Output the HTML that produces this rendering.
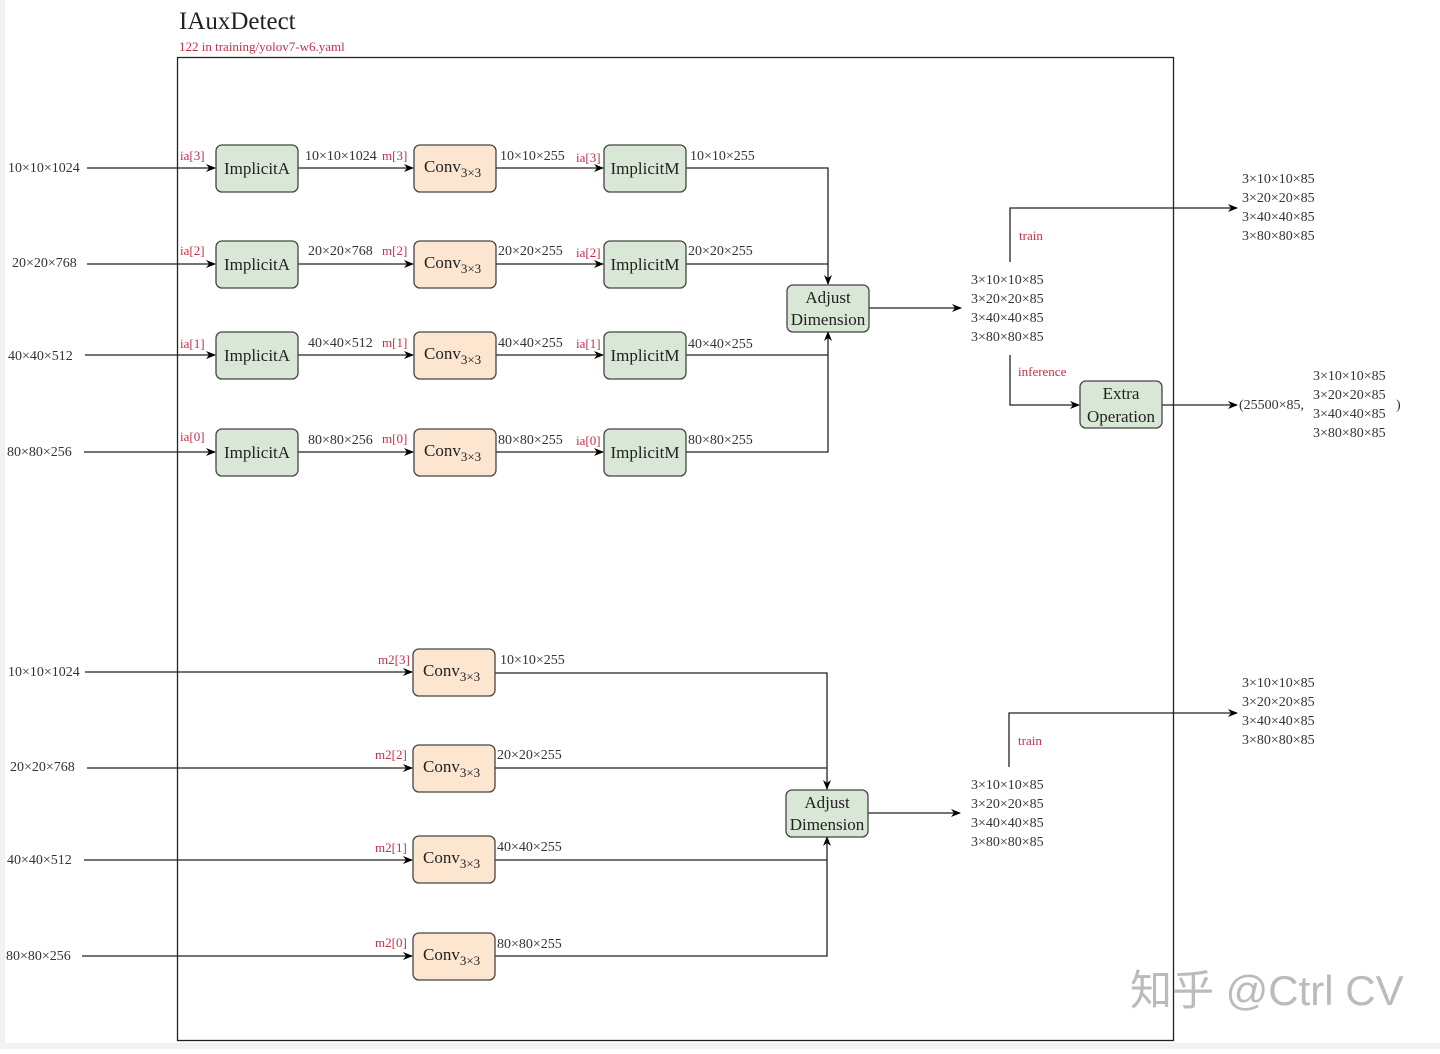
<!DOCTYPE html>
<html><head><meta charset="utf-8"><style>
body{margin:0;background:#fff}
svg text{font-family:"Liberation Serif",serif;}
</style></head><body>
<svg width="1440" height="1049" viewBox="0 0 1440 1049" xmlns="http://www.w3.org/2000/svg">
<defs><marker id="a" markerWidth="10" markerHeight="10" refX="9" refY="5" orient="auto" markerUnits="userSpaceOnUse"><path d="M0,1 L10,5 L0,9 L3,5z" fill="#000"/></marker></defs>
<rect x="0" y="0" width="5" height="1049" fill="#f1f2f3"/>
<rect x="0" y="1043" width="1440" height="6" fill="#f1f2f3"/>
<text x="179" y="29" font-size="25" fill="#222">IAuxDetect</text>
<text x="179" y="51" font-size="13" fill="#c0304a">122 in training/yolov7-w6.yaml</text>
<rect x="177.5" y="57.5" width="996" height="983" fill="none" stroke="#222" stroke-width="1.3"/>
<g stroke="#222" stroke-width="1.3" fill="none">
<path d="M87,168H215" marker-end="url(#a)"/><path d="M298,168H413" marker-end="url(#a)"/><path d="M496,168H603" marker-end="url(#a)"/>
<path d="M87,264H215" marker-end="url(#a)"/><path d="M298,264H413" marker-end="url(#a)"/><path d="M496,264H603" marker-end="url(#a)"/>
<path d="M85,355H215" marker-end="url(#a)"/><path d="M298,355H413" marker-end="url(#a)"/><path d="M496,355H603" marker-end="url(#a)"/>
<path d="M84,452H215" marker-end="url(#a)"/><path d="M298,452H413" marker-end="url(#a)"/><path d="M496,452H603" marker-end="url(#a)"/>
<path d="M686,168H828V284" marker-end="url(#a)"/><path d="M686,264H828"/>
<path d="M686,355H828"/><path d="M686,452H828V332" marker-end="url(#a)"/>
<path d="M869,308H961" marker-end="url(#a)"/>
<path d="M1010,262V208H1237" marker-end="url(#a)"/>
<path d="M1010,355V405H1079" marker-end="url(#a)"/>
<path d="M1162,405H1237" marker-end="url(#a)"/>
<path d="M85,672H412" marker-end="url(#a)"/><path d="M87,768H412" marker-end="url(#a)"/>
<path d="M84,860H412" marker-end="url(#a)"/><path d="M82,956H412" marker-end="url(#a)"/>
<path d="M495,673H827V789" marker-end="url(#a)"/><path d="M495,768H827"/>
<path d="M495,860H827"/><path d="M495,956H827V837" marker-end="url(#a)"/>
<path d="M868,813H960" marker-end="url(#a)"/>
<path d="M1009,767V713H1237" marker-end="url(#a)"/>
</g>
<g stroke="#444" stroke-width="1.3">
<rect x="216" y="145" width="82" height="47" rx="6" fill="#d9e8d6"/>
<rect x="216" y="241" width="82" height="47" rx="6" fill="#d9e8d6"/>
<rect x="216" y="332" width="82" height="47" rx="6" fill="#d9e8d6"/>
<rect x="216" y="429" width="82" height="47" rx="6" fill="#d9e8d6"/>
<rect x="414" y="145" width="82" height="47" rx="6" fill="#fde6d0"/>
<rect x="414" y="241" width="82" height="47" rx="6" fill="#fde6d0"/>
<rect x="414" y="332" width="82" height="47" rx="6" fill="#fde6d0"/>
<rect x="414" y="429" width="82" height="47" rx="6" fill="#fde6d0"/>
<rect x="604" y="145" width="82" height="47" rx="6" fill="#d9e8d6"/>
<rect x="604" y="241" width="82" height="47" rx="6" fill="#d9e8d6"/>
<rect x="604" y="332" width="82" height="47" rx="6" fill="#d9e8d6"/>
<rect x="604" y="429" width="82" height="47" rx="6" fill="#d9e8d6"/>
<rect x="787" y="285" width="82" height="47" rx="6" fill="#d9e8d6"/>
<rect x="1080" y="381" width="82" height="47" rx="6" fill="#d9e8d6"/>
<rect x="413" y="649" width="82" height="47" rx="6" fill="#fde6d0"/>
<rect x="413" y="745" width="82" height="47" rx="6" fill="#fde6d0"/>
<rect x="413" y="836" width="82" height="47" rx="6" fill="#fde6d0"/>
<rect x="413" y="933" width="82" height="47" rx="6" fill="#fde6d0"/>
<rect x="786" y="790" width="82" height="47" rx="6" fill="#d9e8d6"/>
</g>
<g font-size="17" fill="#222" text-anchor="middle">
<text x="257" y="174">ImplicitA</text><text x="257" y="270">ImplicitA</text><text x="257" y="361">ImplicitA</text><text x="257" y="458">ImplicitA</text>
<text x="645" y="174">ImplicitM</text><text x="645" y="270">ImplicitM</text><text x="645" y="361">ImplicitM</text><text x="645" y="458">ImplicitM</text>
<text x="828" y="303">Adjust</text><text x="828" y="325">Dimension</text>
<text x="827" y="808">Adjust</text><text x="827" y="830">Dimension</text>
<text x="1121" y="399">Extra</text><text x="1121" y="422">Operation</text>
</g>
<g font-size="17" fill="#222">
<text x="424" y="172">Conv<tspan font-size="13" dy="5">3×3</tspan></text>
<text x="424" y="268">Conv<tspan font-size="13" dy="5">3×3</tspan></text>
<text x="424" y="359">Conv<tspan font-size="13" dy="5">3×3</tspan></text>
<text x="424" y="456">Conv<tspan font-size="13" dy="5">3×3</tspan></text>
<text x="423" y="676">Conv<tspan font-size="13" dy="5">3×3</tspan></text>
<text x="423" y="772">Conv<tspan font-size="13" dy="5">3×3</tspan></text>
<text x="423" y="863">Conv<tspan font-size="13" dy="5">3×3</tspan></text>
<text x="423" y="960">Conv<tspan font-size="13" dy="5">3×3</tspan></text>
</g>
<g font-size="14" fill="#333">
<text x="8" y="172">10×10×1024</text><text x="12" y="267">20×20×768</text><text x="8" y="360">40×40×512</text><text x="7" y="456">80×80×256</text>
<text x="305" y="160">10×10×1024</text><text x="308" y="255">20×20×768</text><text x="308" y="347">40×40×512</text><text x="308" y="444">80×80×256</text>
<text x="500" y="160">10×10×255</text><text x="498" y="255">20×20×255</text><text x="498" y="347">40×40×255</text><text x="498" y="444">80×80×255</text>
<text x="690" y="160">10×10×255</text><text x="688" y="255">20×20×255</text><text x="688" y="348">40×40×255</text><text x="688" y="444">80×80×255</text>
<text x="8" y="676">10×10×1024</text><text x="10" y="771">20×20×768</text><text x="7" y="864">40×40×512</text><text x="6" y="960">80×80×256</text>
<text x="500" y="664">10×10×255</text><text x="497" y="759">20×20×255</text><text x="497" y="851">40×40×255</text><text x="497" y="948">80×80×255</text>
<text x="971" y="284">3×10×10×85</text><text x="971" y="303">3×20×20×85</text><text x="971" y="322">3×40×40×85</text><text x="971" y="341">3×80×80×85</text>
<text x="1242" y="183">3×10×10×85</text><text x="1242" y="202">3×20×20×85</text><text x="1242" y="221">3×40×40×85</text><text x="1242" y="240">3×80×80×85</text>
<text x="1313" y="380">3×10×10×85</text><text x="1313" y="399">3×20×20×85</text><text x="1313" y="418">3×40×40×85</text><text x="1313" y="437">3×80×80×85</text>
<text x="1239" y="409">(25500×85,</text><text x="1396" y="409">)</text>
<text x="971" y="789">3×10×10×85</text><text x="971" y="808">3×20×20×85</text><text x="971" y="827">3×40×40×85</text><text x="971" y="846">3×80×80×85</text>
<text x="1242" y="687">3×10×10×85</text><text x="1242" y="706">3×20×20×85</text><text x="1242" y="725">3×40×40×85</text><text x="1242" y="744">3×80×80×85</text>
</g>
<g font-size="13" fill="#c0304a">
<text x="180" y="160">ia[3]</text><text x="180" y="255">ia[2]</text><text x="180" y="348">ia[1]</text><text x="180" y="441">ia[0]</text>
<text x="382" y="160">m[3]</text><text x="382" y="255">m[2]</text><text x="382" y="347">m[1]</text><text x="382" y="443">m[0]</text>
<text x="576" y="162">ia[3]</text><text x="576" y="257">ia[2]</text><text x="576" y="348">ia[1]</text><text x="576" y="445">ia[0]</text>
<text x="378" y="664">m2[3]</text><text x="375" y="759">m2[2]</text><text x="375" y="852">m2[1]</text><text x="375" y="947">m2[0]</text>
<text x="1019" y="240">train</text><text x="1018" y="376">inference</text><text x="1018" y="745">train</text>
</g>
<text x="1130" y="1005" font-size="42" fill="#bbb" style="font-family:'Liberation Sans','Noto Sans CJK SC',sans-serif">知乎 @Ctrl CV</text>
</svg>
</body></html>
